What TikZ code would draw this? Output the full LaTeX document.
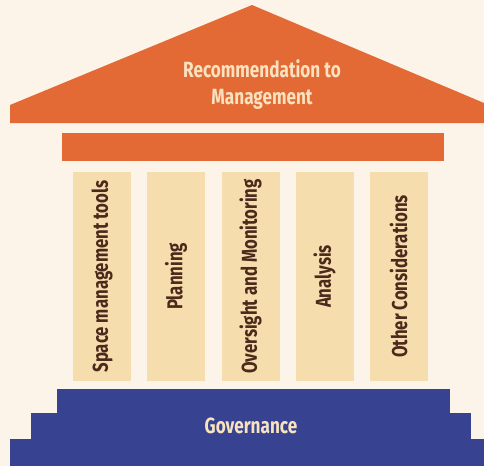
\documentclass[tikz,border=0pt]{standalone}
\usepackage{fontspec}
\setmainfont{Fira Sans}
\newfontfamily\condfont{Fira Sans}[FakeStretch=0.78]
\usetikzlibrary{positioning}

\definecolor{cream}{HTML}{FDF4E9}
\definecolor{roofcol}{HTML}{E46A35}
\definecolor{pillarcol}{HTML}{F6DDAE}
\definecolor{basecol}{HTML}{374391}
\definecolor{lighttext}{HTML}{F9E2BF}
\definecolor{darktext}{HTML}{4B2A1B}

\tikzset{
  pillar/.style={fill=pillarcol, rotate=90, minimum width=209pt, minimum height=58pt,
    inner sep=0pt, text=darktext, font=\condfont\bfseries\fontsize{21.5}{24}\selectfont},
  lighttag/.style={text=lighttext, align=center, font=\condfont\bfseries\fontsize{22}{27}\selectfont}
}

\begin{document}
\begin{tikzpicture}[x=1pt,y=-1pt]
    % Background
    \fill [cream] (0,0) rectangle (484,466);

    % Roof
    \fill [roofcol] (10,123) -- (10,105) -- (252,5) -- (484,103) -- (484,123) -- cycle;
    \node [lighttag] (rec) at (262,85) {Recommendation to\\Management};

    % Beam
    \fill [roofcol] (62,133) rectangle (444,161);

    % Pillars
    \foreach \x/\name/\txt in {102/tools/Space management tools, 176/plan/Planning,
        250.5/watch/Oversight and Monitoring, 324.5/anal/Analysis, 398.5/other/Other Considerations}
      \node [pillar] (\name) at (\x,276.5) {\txt};

    % Base steps
    \fill [basecol] (57,389) rectangle (450,414);
    \fill [basecol] (31,413) rectangle (471,440);
    \fill [basecol] (10,439) rectangle (484,466);
    \node [lighttag] (gov) at (251,426) {Governance};
\end{tikzpicture}
\end{document}
